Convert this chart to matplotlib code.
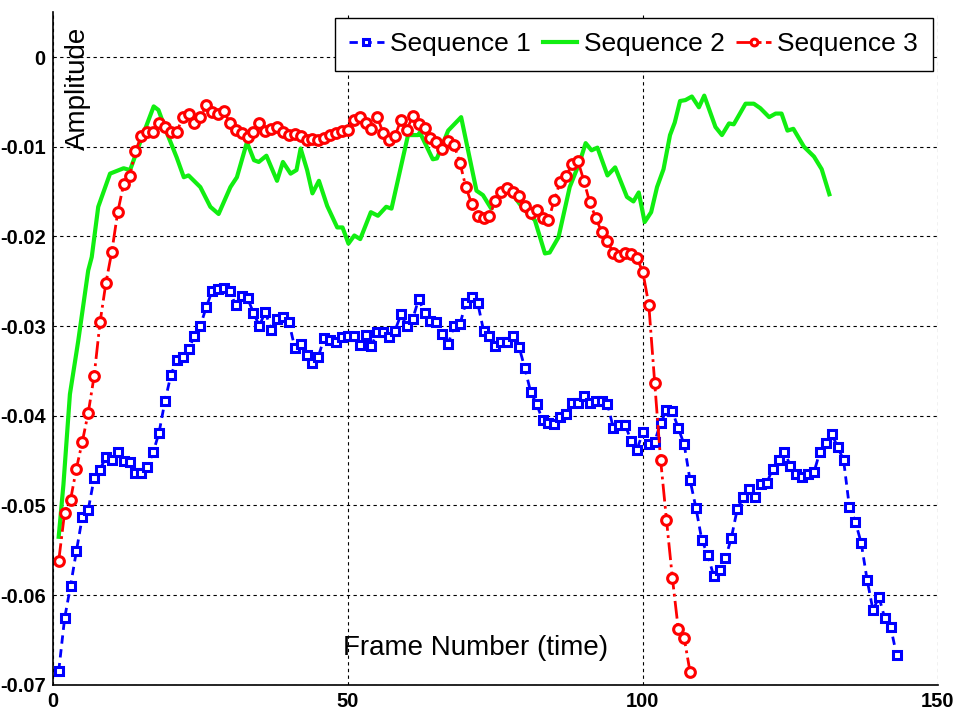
import matplotlib
matplotlib.use("Agg")
import matplotlib.pyplot as plt
import numpy as np

plt.rcParams['font.family'] = ['Liberation Sans', 'DejaVu Sans']

# Sequence 1 (blue, one value per frame, frames 1..143)
seq1 = [-0.0685, -0.0626, -0.0590, -0.0551, -0.0513, -0.0505, -0.0470, -0.0460, -0.0446, -0.0449,
        -0.0440, -0.0450, -0.0452, -0.0464, -0.0464, -0.0457, -0.0441, -0.0419, -0.0384, -0.0355,
        -0.0338, -0.0335, -0.0326, -0.0311, -0.0300, -0.0279, -0.0261, -0.0259, -0.0258, -0.0261,
        -0.0277, -0.0267, -0.0269, -0.0285, -0.0300, -0.0284, -0.0304, -0.0292, -0.0290, -0.0295,
        -0.0324, -0.0320, -0.0332, -0.0341, -0.0334, -0.0313, -0.0315, -0.0318, -0.0312, -0.0311,
        -0.0311, -0.0321, -0.0310, -0.0322, -0.0307, -0.0307, -0.0312, -0.0305, -0.0287, -0.0300,
        -0.0292, -0.0270, -0.0285, -0.0294, -0.0295, -0.0309, -0.0320, -0.0300, -0.0298, -0.0274,
        -0.0268, -0.0274, -0.0305, -0.0311, -0.0322, -0.0318, -0.0318, -0.0311, -0.0323, -0.0347,
        -0.0374, -0.0387, -0.0405, -0.0408, -0.0409, -0.0401, -0.0398, -0.0386, -0.0386, -0.0378,
        -0.0386, -0.0384, -0.0384, -0.0387, -0.0414, -0.0410, -0.0410, -0.0428, -0.0438, -0.0418,
        -0.0431, -0.0429, -0.0408, -0.0394, -0.0395, -0.0414, -0.0432, -0.0472, -0.0503, -0.0539,
        -0.0555, -0.0579, -0.0572, -0.0559, -0.0536, -0.0504, -0.0491, -0.0482, -0.0491, -0.0476,
        -0.0475, -0.0459, -0.0449, -0.0440, -0.0456, -0.0465, -0.0468, -0.0465, -0.0463, -0.0440,
        -0.0430, -0.0420, -0.0435, -0.0449, -0.0502, -0.0518, -0.0542, -0.0583, -0.0617, -0.0602,
        -0.0626, -0.0636, -0.0667]

# Sequence 2 (green line, vertices)
seq2_x = [1.0, 1.8, 2.9, 4.3, 6.0, 6.6, 7.7, 9.7, 12.0, 13.1, 14.8, 17.1, 17.9, 19.3, 21.0,
          22.2, 23.0, 25.0, 26.7, 28.1, 30.1, 31.2, 32.9, 34.1, 34.9, 36.2, 38.0, 39.0, 40.3,
          41.3, 42.0, 43.1, 44.0, 45.1, 46.5, 48.2, 49.1, 50.1, 51.1, 52.1, 53.9, 55.1, 56.5,
          57.4, 60.2, 61.9, 62.2, 64.4, 65.1, 67.0, 69.2, 71.8, 72.9, 74.3, 75.7, 77.7, 79.7,
          81.7, 83.4, 84.2, 85.7, 87.6, 89.3, 90.3, 91.3, 92.3, 94.0, 95.3, 97.3, 98.4, 99.3,
          100.3, 101.4, 102.4, 103.5, 104.6, 105.4, 106.3, 107.2, 108.3, 109.5, 110.4, 112.3,
          113.4, 114.6, 115.4, 117.4, 118.8, 119.9, 121.4, 122.5, 123.5, 124.5, 125.5, 127.3,
          129.0, 130.3, 131.6]
seq2_y = [-0.0535, -0.0477, -0.0376, -0.0317, -0.0238, -0.0223, -0.0167, -0.0130, -0.0124, -0.0126,
          -0.0095, -0.0055, -0.0059, -0.0084, -0.0112, -0.0134, -0.0132, -0.0145, -0.0167, -0.0175,
          -0.0145, -0.0134, -0.0095, -0.0115, -0.0117, -0.0110, -0.0138, -0.0117, -0.0130, -0.0126,
          -0.0102, -0.0126, -0.0152, -0.0138, -0.0166, -0.0190, -0.0190, -0.0208, -0.0199, -0.0203,
          -0.0173, -0.0177, -0.0167, -0.0169, -0.0087, -0.0087, -0.0084, -0.0114, -0.0113, -0.0082,
          -0.0067, -0.0149, -0.0154, -0.0169, -0.0152, -0.0151, -0.0169, -0.0182, -0.0219, -0.0218,
          -0.0201, -0.0145, -0.0117, -0.0096, -0.0104, -0.0101, -0.0132, -0.0123, -0.0156, -0.0161,
          -0.0151, -0.0184, -0.0173, -0.0145, -0.0125, -0.0087, -0.0073, -0.0049, -0.0048, -0.0044,
          -0.0056, -0.0043, -0.0078, -0.0087, -0.0074, -0.0075, -0.0052, -0.0052, -0.0057, -0.0067,
          -0.0063, -0.0063, -0.0082, -0.0080, -0.0100, -0.0111, -0.0125, -0.0153]

# Sequence 3 (red, one value per frame, frames 1..108)
seq3 = [-0.0562, -0.0508, -0.0494, -0.0459, -0.0429, -0.0397, -0.0356, -0.0296, -0.0252, -0.0217,
        -0.0173, -0.0142, -0.0133, -0.0105, -0.0088, -0.0084, -0.0084, -0.0073, -0.0078, -0.0084,
        -0.0084, -0.0067, -0.0063, -0.0074, -0.0067, -0.0054, -0.0061, -0.0064, -0.0060, -0.0074,
        -0.0081, -0.0085, -0.0089, -0.0084, -0.0073, -0.0082, -0.0080, -0.0078, -0.0084, -0.0087,
        -0.0086, -0.0088, -0.0092, -0.0091, -0.0092, -0.0090, -0.0087, -0.0085, -0.0082, -0.0081,
        -0.0070, -0.0067, -0.0073, -0.0080, -0.0067, -0.0085, -0.0093, -0.0088, -0.0070, -0.0081,
        -0.0066, -0.0075, -0.0079, -0.0090, -0.0095, -0.0103, -0.0094, -0.0098, -0.0118, -0.0145,
        -0.0164, -0.0177, -0.0179, -0.0177, -0.0160, -0.0151, -0.0146, -0.0151, -0.0155, -0.0166,
        -0.0174, -0.0170, -0.0179, -0.0182, -0.0159, -0.0139, -0.0133, -0.0119, -0.0116, -0.0138,
        -0.0162, -0.0179, -0.0195, -0.0205, -0.0219, -0.0222, -0.0219, -0.0220, -0.0224, -0.0240,
        -0.0276, -0.0363, -0.0449, -0.0516, -0.0581, -0.0638, -0.0648, -0.0686]

x_ticks = [0, 50, 100, 150]
y_ticks = [0, -0.01, -0.02, -0.03, -0.04, -0.05, -0.06, -0.07]
y_ticklabels = ['0', '-0.01', '-0.02', '-0.03', '-0.04', '-0.05', '-0.06', '-0.07']

fig = plt.figure(figsize=(9.6, 7.2), dpi=100)
ax = fig.add_axes([0.055, 0.049, 0.922, 0.934])

x1 = np.arange(1, len(seq1) + 1)
x3 = np.arange(1, len(seq3) + 1)

ax.plot(x1, seq1, color='#0000ff', ls=(0, (3, 2)), lw=2, marker='s', ms=6,
        mfc='white', mec='#0000ff', mew=2.2, label='Sequence 1')
ax.plot(seq2_x, seq2_y, color='#11ee11', ls='-', lw=3, label='Sequence 2')
ax.plot(x3, seq3, color='#ff0000', ls='-.', lw=2, marker='o', ms=7,
        mfc='white', mec='#ff0000', mew=2.2, label='Sequence 3')

ax.set_xlim(0, 150)
ax.set_ylim(-0.07, 0.005)
ax.set_xticks(x_ticks)
ax.set_yticks(y_ticks)
ax.set_yticklabels(y_ticklabels)
ax.tick_params(length=0, labelsize=14.5, pad=5)
for lab in ax.get_xticklabels() + ax.get_yticklabels():
    lab.set_fontweight('bold')

ax.grid(True, color='black', ls=(0, (3, 3)), lw=0.8)
ax.spines['top'].set_visible(False)
ax.spines['right'].set_visible(False)
ax.spines['left'].set_linewidth(1.2)
ax.spines['bottom'].set_linewidth(1.2)

ax.text(0.028, 0.887, 'Amplitude', transform=ax.transAxes, rotation=90,
        ha='center', va='center', fontsize=20)
ax.text(0.478, 0.055, 'Frame Number (time)', transform=ax.transAxes,
        ha='center', va='center', fontsize=20)

leg = ax.legend(loc='upper right', ncol=3, fontsize=19, frameon=True, fancybox=False,
                edgecolor='black', handlelength=1.3, handletextpad=0.25, columnspacing=0.45,
                borderaxespad=0.2, borderpad=0.55, markerscale=0.7)
leg.get_frame().set_linewidth(1.0)
leg.get_frame().set_alpha(1)

fig.savefig('out.png', dpi=100)
